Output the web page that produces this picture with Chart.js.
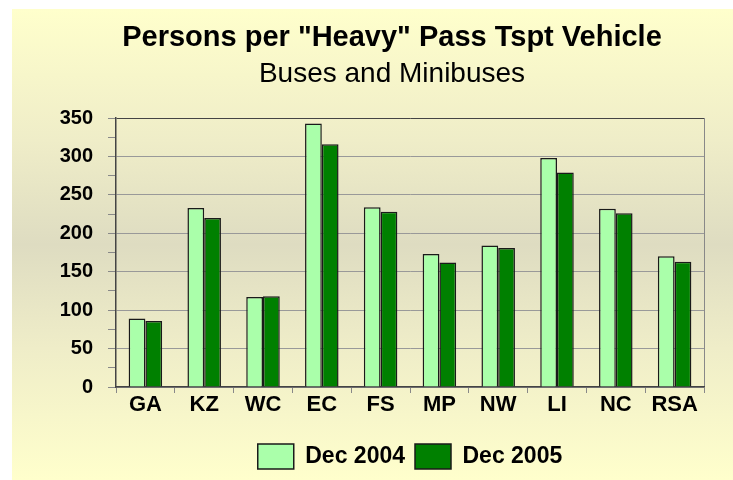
<!DOCTYPE html>
<html lang="en">
<head>
    <meta charset="UTF-8">
    <title>Persons per "Heavy" Pass Tspt Vehicle</title>
    <script src="https://cdn.jsdelivr.net/npm/chart.js"></script>
    <style>
        body {
            margin: 0;
            background: #ffffff;
            width: 733px;
            height: 480px;
            position: relative;
            overflow: hidden;
        }

        .backdrop {
            position: absolute;
            left: 12px;
            top: 9px;
            right: 0;
            bottom: 0;
            background: linear-gradient(#ffffcc 0%, #efedc8 28%, #dedcc1 50%, #efedc8 72%, #ffffcc 100%);
        }

        #busChart {
            position: absolute;
            left: 51px;
            top: 0;
        }
    </style>
</head>
<body>

<div class="backdrop"></div>
<canvas id="busChart" width="682" height="480"></canvas>

<script>
    const categories = ['GA', 'KZ', 'WC', 'EC', 'FS', 'MP', 'NW', 'LI', 'NC', 'RSA'];
    const dec2004 = [89, 233, 117, 343, 234, 173, 184, 298, 232, 170];
    const dec2005 = [86, 220, 118, 316, 228, 162, 181, 279, 226, 163];
    const yTicks = { min: 0, max: 350, step: 25, labelEvery: 50 };

    const FONT = "Arial, 'Liberation Sans', sans-serif";

    new Chart(document.getElementById('busChart'), {
        type: 'bar',
        data: {
            labels: categories,
            datasets: [
                {
                    label: 'Dec 2004',
                    data: dec2004,
                    backgroundColor: '#aaffaa',
                    borderColor: '#1a1a1a',
                    borderWidth: 1.5
                },
                {
                    label: 'Dec 2005',
                    data: dec2005,
                    backgroundColor: '#008000',
                    borderColor: '#1a1a1a',
                    borderWidth: 1.5
                }
            ]
        },
        options: {
            responsive: false,
            animation: false,
            layout: { padding: { left: 0, right: 0, top: 0, bottom: 1 } },
            datasets: {
                bar: { categoryPercentage: 0.57, barPercentage: 1.0 }
            },
            plugins: {
                title: {
                    display: true,
                    text: 'Persons per "Heavy" Pass Tspt Vehicle',
                    color: '#000',
                    font: { family: FONT, size: 29, weight: 'bold', lineHeight: 1 },
                    padding: { top: 23.5, bottom: 0 }
                },
                subtitle: {
                    display: true,
                    text: 'Buses and Minibuses',
                    color: '#000',
                    font: { family: FONT, size: 28, weight: 'normal', lineHeight: 1 },
                    padding: { top: 7.5, bottom: 30 }
                },
                legend: {
                    position: 'bottom',
                    fullSize: false,
                    labels: {
                        color: '#000',
                        font: { family: FONT, size: 23, weight: 'bold' },
                        boxWidth: 36,
                        boxHeight: 25,
                        padding: 10
                    }
                },
                tooltip: { enabled: false }
            },
            scales: {
                x: {
                    afterFit: (scale) => { scale.height = 47; },
                    grid: {
                        offset: true,
                        drawOnChartArea: true,
                        // only the closing line (right edge of the plot) is visible
                        color: (ctx) => ctx.type === 'tick' ? 'rgba(0,0,0,0)' : '#888888',
                        tickColor: '#888888',
                        tickLength: 6
                    },
                    border: { color: '#444444', width: 1.5 },
                    ticks: {
                        color: '#000',
                        padding: 1,
                        font: { family: FONT, size: 22, weight: 'bold', lineHeight: 1 }
                    }
                },
                y: {
                    min: yTicks.min,
                    max: yTicks.max,
                    afterFit: (scale) => { scale.width = 65; },
                    grid: {
                        color: (ctx) => {
                            const v = ctx.tick ? ctx.tick.value : 0;
                            if (v === yTicks.max) return '#444444';
                            return v % yTicks.labelEvery === 0 ? '#999999' : 'rgba(0,0,0,0)';
                        },
                        tickColor: '#888888',
                        tickLength: 8
                    },
                    border: { color: '#444444', width: 1.5 },
                    ticks: {
                        stepSize: yTicks.step,
                        autoSkip: false,
                        color: '#000',
                        padding: 15,
                        font: { family: FONT, size: 20, weight: 'bold', lineHeight: 1 },
                        callback: (v) => v % yTicks.labelEvery === 0 ? v : ''
                    }
                },
                // empty right-hand axis: only reserves the margin right of the plot,
                // so the titles stay centred on the whole canvas
                yRight: {
                    position: 'right',
                    afterFit: (scale) => { scale.width = 29; },
                    grid: { display: false },
                    border: { display: false },
                    ticks: { display: false }
                }
            }
        }
    });
</script>

</body>
</html>
